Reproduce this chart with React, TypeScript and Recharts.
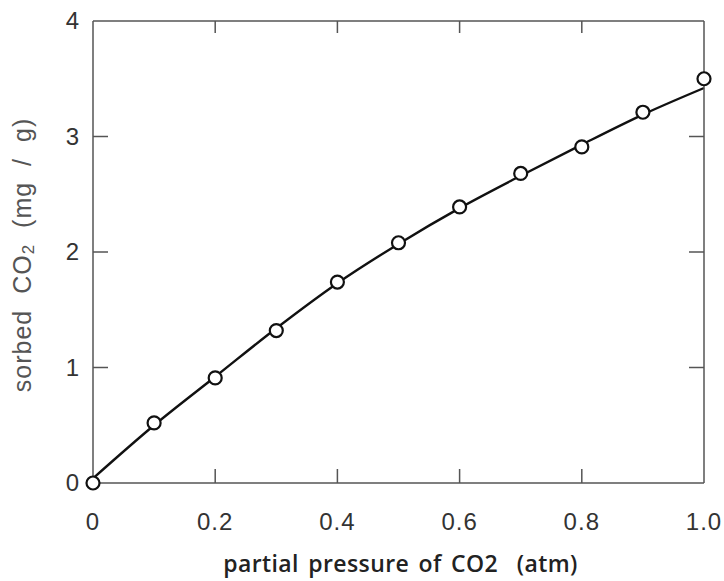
import React from 'react';
import { ComposedChart, Line, Scatter, XAxis, YAxis, Label } from 'recharts';

// measured points (open circles)
const pressure = [0, 0.1, 0.2, 0.3, 0.4, 0.5, 0.6, 0.7, 0.8, 0.9, 1.0];
const sorbed = [0, 0.52, 0.91, 1.32, 1.74, 2.08, 2.39, 2.68, 2.91, 3.21, 3.5];

// fitted curve drawn through the points
const fitPressure = [0, 0.1, 0.2, 0.3, 0.4, 0.5, 0.6, 0.7, 0.8, 0.9, 1.0];
const fitSorbed = [0.04, 0.5, 0.92, 1.34, 1.73, 2.07, 2.38, 2.66, 2.93, 3.19, 3.42];

const xTicks = [0, 0.2, 0.4, 0.6, 0.8, 1.0];
const xTickLabels = ['0', '0.2', '0.4', '0.6', '0.8', '1.0'];
const yTicks = [0, 1, 2, 3, 4];

const points = pressure.map((p, i) => ({ p, sorbed: sorbed[i] }));
const curve = fitPressure.map((p, i) => ({ p, fit: fitSorbed[i] }));

const AXIS = '#555';
const TEXT = '#333';
const tickFont = { fontFamily: 'Liberation Sans, Arial, sans-serif', fontSize: 24, fill: TEXT };

const BottomTick = (props: any) => {
  const { x, y, payload } = props;
  const idx = xTicks.indexOf(payload.value);
  return (
    <g>
      {idx > 0 && idx < xTicks.length - 1 && (
        <line x1={x} y1={y} x2={x} y2={y - 14} stroke={AXIS} strokeWidth={1.5} />
      )}
      <text x={x} y={y + 47} textAnchor="middle" letterSpacing={1} {...tickFont}>
        {xTickLabels[idx]}
      </text>
    </g>
  );
};

const TopTick = (props: any) => {
  const { x, y, payload } = props;
  if (payload.value === 0 || payload.value === 1) return <g />;
  return <line x1={x} y1={y} x2={x} y2={y + 12} stroke={AXIS} strokeWidth={1.5} />;
};

const LeftTick = (props: any) => {
  const { x, y, payload } = props;
  return (
    <g>
      {payload.value > 0 && payload.value < 4 && (
        <line x1={x} y1={y} x2={x + 15} y2={y} stroke={AXIS} strokeWidth={1.5} />
      )}
      <text x={x - 14} y={y + 8} textAnchor="end" {...tickFont}>
        {payload.value}
      </text>
    </g>
  );
};

const RightTick = (props: any) => {
  const { x, y, payload } = props;
  if (payload.value === 0 || payload.value === 4) return <g />;
  return <line x1={x} y1={y} x2={x - 15} y2={y} stroke={AXIS} strokeWidth={1.5} />;
};

const Circle = (props: any) => {
  const { cx, cy } = props;
  return <circle cx={cx} cy={cy} r={6.5} fill="#fff" stroke="#111" strokeWidth={2.2} />;
};

export default function App() {
  return (
    <div style={{ position: 'absolute', left: 0, top: 0, background: '#fff' }}>
      <ComposedChart width={724} height={581} margin={{ top: 20, right: 19, bottom: 0, left: 0 }}>
        <XAxis
          dataKey="p"
          type="number"
          domain={[0, 1]}
          ticks={xTicks}
          interval={0}
          height={98}
          tickSize={0}
          tickMargin={0}
          tickLine={false}
          axisLine={{ stroke: AXIS, strokeWidth: 1.5 }}
          tick={<BottomTick />}
        >
          <Label
            content={({ viewBox }: any) => (
              <text
                x={viewBox.x + viewBox.width / 2 + 2}
                y={viewBox.y + 89}
                textAnchor="middle"
                fontFamily="Open Sans, sans-serif"
                fontWeight={600}
                fontSize={23}
                letterSpacing={0.4}
                wordSpacing={3}
                fill="#222"
              >
                partial pressure of CO2 &#160;(atm)
              </text>
            )}
          />
        </XAxis>
        <XAxis
          xAxisId="top"
          orientation="top"
          dataKey="p"
          type="number"
          domain={[0, 1]}
          ticks={xTicks}
          interval={0}
          height={1}
          tickSize={0}
          tickMargin={0}
          tickLine={false}
          axisLine={{ stroke: AXIS, strokeWidth: 1.5 }}
          tick={<TopTick />}
        />
        <YAxis
          type="number"
          domain={[0, 4]}
          ticks={yTicks}
          interval={0}
          width={93}
          tickSize={0}
          tickMargin={0}
          tickLine={false}
          axisLine={{ stroke: AXIS, strokeWidth: 1.5 }}
          tick={<LeftTick />}
        >
          <Label
            content={({ viewBox }: any) => {
              const cx = viewBox.x + 24;
              const cy = viewBox.y + viewBox.height / 2 + 3;
              return (
                <text
                  x={cx}
                  y={cy}
                  transform={`rotate(-90 ${cx} ${cy})`}
                  textAnchor="middle"
                  dominantBaseline="middle"
                  fontFamily="Liberation Sans, Arial, sans-serif"
                  fontSize={25}
                  letterSpacing={1}
                  wordSpacing={8}
                  fill="#555"
                >
                  sorbed CO<tspan fontSize={17} dy={6}>2</tspan>
                  <tspan dy={-6}> (mg / g)</tspan>
                </text>
              );
            }}
          />
        </YAxis>
        <YAxis
          yAxisId="right"
          orientation="right"
          type="number"
          domain={[0, 4]}
          ticks={yTicks}
          interval={0}
          width={1}
          tickSize={0}
          tickMargin={0}
          tickLine={false}
          axisLine={{ stroke: AXIS, strokeWidth: 1.5 }}
          tick={<RightTick />}
        />
        {/* invisible series so the top and right frame axes get drawn */}
        <Line
          data={curve}
          dataKey="fit"
          xAxisId="top"
          yAxisId="right"
          stroke="none"
          dot={false}
          activeDot={false}
          isAnimationActive={false}
        />
        <Line
          data={curve}
          dataKey="fit"
          type="monotone"
          stroke="#111"
          strokeWidth={2.4}
          dot={false}
          isAnimationActive={false}
        />
        <Scatter data={points} dataKey="sorbed" shape={<Circle />} isAnimationActive={false} />
      </ComposedChart>
    </div>
  );
}
